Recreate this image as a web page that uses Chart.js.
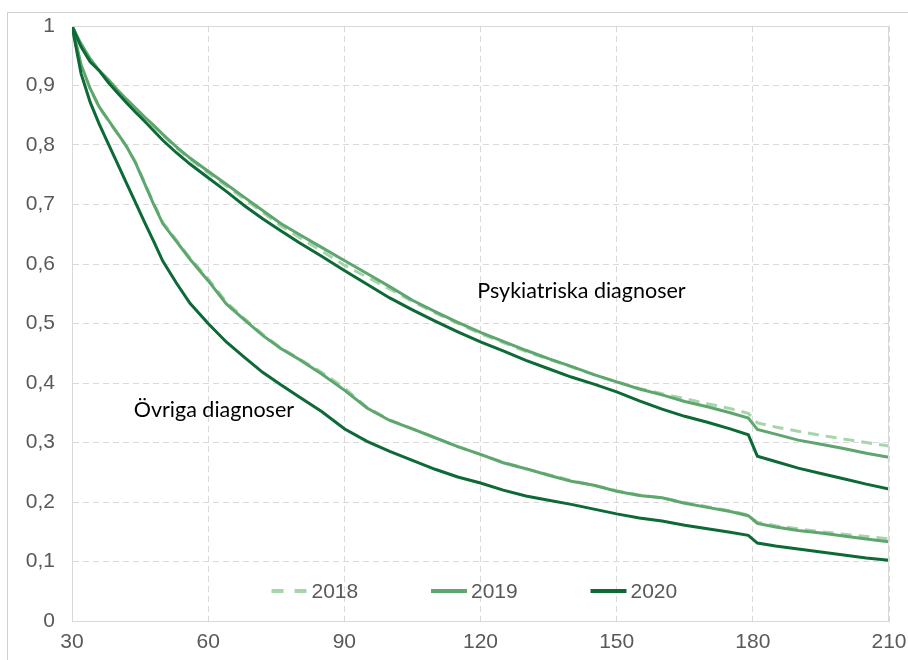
<!DOCTYPE html>
<html>
<head>
<meta charset="utf-8">
<script src="https://cdn.jsdelivr.net/npm/chart.js@4.4.1/dist/chart.umd.min.js"></script>
<style>
  html, body { margin: 0; padding: 0; background: #ffffff; }
  #wrap { position: relative; width: 908px; height: 660px; }
  canvas { display: block; }
</style>
</head>
<body>
<div id="wrap"><canvas id="c" width="908" height="660"></canvas></div>
<script>
// ---- Data ----
const days = [30, 32, 34, 36, 38, 40, 42, 44, 46, 48, 50, 53, 56, 60, 64, 68, 72, 76, 80, 85, 90, 95, 100, 105, 110, 115, 120, 125, 130, 135, 140, 145, 150, 155, 160, 165, 170, 175, 179, 181, 185, 190, 195, 200, 205, 210];

const psyk2018 = [1.0, 0.968, 0.944, 0.924, 0.909, 0.892, 0.876, 0.861, 0.846, 0.832, 0.817, 0.795, 0.776, 0.753, 0.731, 0.709, 0.687, 0.664, 0.645, 0.622, 0.598, 0.578, 0.558, 0.537, 0.518, 0.500, 0.483, 0.468, 0.453, 0.440, 0.427, 0.414, 0.402, 0.391, 0.382, 0.374, 0.365, 0.357, 0.349, 0.333, 0.326, 0.319, 0.312, 0.306, 0.300, 0.294];
const psyk2019 = [1.0, 0.970, 0.945, 0.925, 0.910, 0.893, 0.877, 0.862, 0.847, 0.833, 0.818, 0.797, 0.778, 0.756, 0.734, 0.712, 0.690, 0.668, 0.650, 0.628, 0.606, 0.584, 0.562, 0.539, 0.520, 0.502, 0.485, 0.470, 0.455, 0.441, 0.428, 0.414, 0.402, 0.390, 0.380, 0.369, 0.360, 0.350, 0.341, 0.322, 0.314, 0.304, 0.297, 0.290, 0.282, 0.275];
const psyk2020 = [1.0, 0.965, 0.940, 0.925, 0.905, 0.888, 0.871, 0.855, 0.840, 0.824, 0.808, 0.787, 0.768, 0.745, 0.722, 0.698, 0.676, 0.656, 0.636, 0.613, 0.589, 0.566, 0.543, 0.523, 0.504, 0.486, 0.469, 0.454, 0.438, 0.424, 0.410, 0.398, 0.385, 0.370, 0.356, 0.344, 0.334, 0.323, 0.313, 0.277, 0.268, 0.257, 0.248, 0.239, 0.230, 0.222];

const ovr2018 = [1.0, 0.933, 0.894, 0.863, 0.841, 0.819, 0.797, 0.771, 0.737, 0.702, 0.670, 0.640, 0.610, 0.575, 0.536, 0.508, 0.482, 0.459, 0.441, 0.418, 0.392, 0.359, 0.338, 0.323, 0.308, 0.293, 0.280, 0.267, 0.256, 0.246, 0.236, 0.228, 0.219, 0.212, 0.207, 0.199, 0.192, 0.185, 0.178, 0.166, 0.160, 0.155, 0.150, 0.146, 0.142, 0.138];
const ovr2019 = [1.0, 0.935, 0.895, 0.864, 0.842, 0.820, 0.798, 0.770, 0.735, 0.700, 0.668, 0.638, 0.608, 0.572, 0.533, 0.506, 0.480, 0.458, 0.440, 0.415, 0.388, 0.358, 0.337, 0.323, 0.308, 0.293, 0.280, 0.266, 0.256, 0.245, 0.235, 0.228, 0.218, 0.211, 0.207, 0.198, 0.191, 0.184, 0.177, 0.164, 0.158, 0.152, 0.148, 0.143, 0.138, 0.133];
const ovr2020 = [1.0, 0.920, 0.872, 0.835, 0.802, 0.769, 0.736, 0.703, 0.670, 0.638, 0.605, 0.568, 0.534, 0.500, 0.469, 0.443, 0.418, 0.397, 0.377, 0.352, 0.323, 0.302, 0.285, 0.270, 0.255, 0.242, 0.232, 0.220, 0.210, 0.203, 0.196, 0.188, 0.180, 0.173, 0.168, 0.161, 0.155, 0.149, 0.144, 0.131, 0.126, 0.121, 0.116, 0.111, 0.106, 0.102];

const years = ['2018', '2019', '2020'];
const xTicks = [30, 60, 90, 120, 150, 180, 210];
const groupLabels = ['Psykiatriska diagnoser', 'Övriga diagnoser'];

// ---- Styles ----
const colors = { '2018': '#a6d5ab', '2019': '#5fa66e', '2020': '#0d6a36' };
const dashes = { '2018': [11, 7], '2019': [], '2020': [] };
const orders = { '2018': 3, '2019': 2, '2020': 1 };

function pts(arr) { return days.map((d, i) => ({ x: d, y: arr[i] })); }
function ds(year, arr, group) {
  return {
    label: year + ' ' + group,
    data: pts(arr),
    borderColor: colors[year],
    backgroundColor: colors[year],
    borderWidth: 3,
    borderDash: dashes[year],
    pointRadius: 0,
    tension: 0,
    fill: false,
    order: orders[year]
  };
}

const datasets = [
  ds('2018', psyk2018, 'psyk'), ds('2019', psyk2019, 'psyk'), ds('2020', psyk2020, 'psyk'),
  ds('2018', ovr2018, 'ovr'), ds('2019', ovr2019, 'ovr'), ds('2020', ovr2020, 'ovr')
];

const gridColor = '#d9d9d9';
const tickFont = { family: '"Liberation Sans", Arial, sans-serif', size: 21 };
const tickColor = '#595959';

const decorPlugin = {
  id: 'decor',
  beforeDraw(chart) {
    const ctx = chart.ctx;
    ctx.save();
    ctx.strokeStyle = '#d0d0d0';
    ctx.lineWidth = 1;
    ctx.strokeRect(7.5, 12.5, 1000, 1000);
    ctx.restore();
  },
  afterDatasetsDraw(chart) {
    const ctx = chart.ctx;
    const a = chart.chartArea;
    const xs = chart.scales.x, ys = chart.scales.y;
    ctx.save();
    // plot frame (top/right solid lines)
    ctx.strokeStyle = gridColor;
    ctx.lineWidth = 1;
    ctx.beginPath();
    ctx.moveTo(a.left, Math.round(a.top) + 0.5);
    ctx.lineTo(a.right, Math.round(a.top) + 0.5);
    ctx.moveTo(Math.round(a.right) - 0.5, a.top);
    ctx.lineTo(Math.round(a.right) - 0.5, a.bottom);
    ctx.stroke();

    // group annotations
    ctx.fillStyle = '#000000';
    ctx.font = '21.5px Lato, "Open Sans", sans-serif';
    ctx.textBaseline = 'middle';
    ctx.textAlign = 'left';
    ctx.fillText(groupLabels[0], xs.getPixelForValue(119.3), ys.getPixelForValue(0.555));
    ctx.fillText(groupLabels[1], xs.getPixelForValue(43.6), ys.getPixelForValue(0.355));

    // legend inside plot
    ctx.font = tickFont.size + 'px ' + tickFont.family;
    const sample = 36, gapT = 4, step = 159.5;
    const mid = (a.left + a.right) / 2 - 49.5;
    const ly = a.bottom - 30;
    years.forEach((y, k) => {
      const x = mid + (k - 1) * step;
      ctx.save();
      ctx.strokeStyle = colors[y];
      ctx.lineWidth = 4;
      ctx.setLineDash(y === '2018' ? [12, 11] : []);
      ctx.beginPath();
      ctx.moveTo(x, ly);
      ctx.lineTo(x + sample, ly);
      ctx.stroke();
      ctx.restore();
      ctx.fillStyle = tickColor;
      ctx.textAlign = 'left';
      ctx.textBaseline = 'middle';
      ctx.fillText(y, x + sample + gapT, ly + 1);
    });
    ctx.restore();
  }
};

new Chart(document.getElementById('c'), {
  type: 'line',
  data: { datasets },
  options: {
    responsive: false,
    animation: false,
    devicePixelRatio: 1,
    layout: { padding: { top: 26, right: 19, left: 0, bottom: 0 } },
    plugins: {
      legend: { display: false },
      tooltip: { enabled: false },
      title: { display: false }
    },
    scales: {
      x: {
        type: 'linear',
        min: 30, max: 210,
        afterBuildTicks(scale) { scale.ticks = xTicks.map(v => ({ value: v })); },
        afterFit(scale) { scale.height = 39; scale.paddingLeft = 0; scale.paddingRight = 0; },
        grid: { color: gridColor, lineWidth: 1, drawTicks: false },
        border: { display: true, color: gridColor, width: 1, dash: [6, 4] },
        ticks: { color: tickColor, font: tickFont, padding: 9, maxRotation: 0, autoSkip: false,
          callback: v => String(v) }
      },
      y: {
        type: 'linear',
        min: 0, max: 1,
        afterFit(scale) { scale.width = 72; scale.paddingTop = 0; scale.paddingBottom = 0; },
        grid: { color: gridColor, lineWidth: 1, drawTicks: false },
        border: { display: true, color: gridColor, width: 1, dash: [6, 4] },
        ticks: { color: tickColor, font: tickFont, padding: 17, stepSize: 0.1,
          callback: v => (v === 0 ? '0' : (Math.abs(v - 1) < 1e-9 ? '1' : v.toFixed(1).replace('.', ','))) }
      }
    }
  },
  plugins: [decorPlugin]
});
</script>
</body>
</html>
